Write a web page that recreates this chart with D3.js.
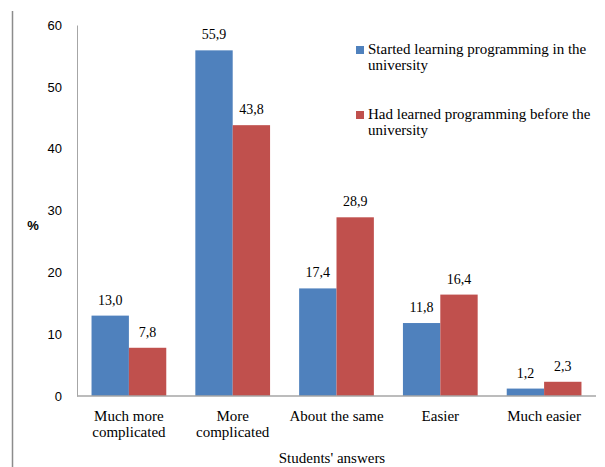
<!DOCTYPE html>
<html>
<head>
<meta charset="utf-8">
<script src="https://cdn.jsdelivr.net/npm/d3@7"></script>
<style>
  body { margin: 0; background: #fff; }
  svg text { fill: #000; }
</style>
</head>
<body>
<div id="chart"></div>
<script>
// data
var categories = [["Much more", "complicated"], ["More", "complicated"], ["About the same"], ["Easier"], ["Much easier"]]
var startedUni = [13.0, 55.9, 17.4, 11.8, 1.2]
var learnedBefore = [7.8, 43.8, 28.9, 16.4, 2.3]
var seriesNames = [["Started learning programming in the", "university"], ["Had learned programming before the", "university"]]
var yTicks = [0, 10, 20, 30, 40, 50, 60]

var width = 605, height = 467
var margin = {top: 25, right: 9, bottom: 71, left: 77}
var colors = ['#4f81bd', '#c0504d']
var serif = "Liberation Serif"
var sans = "Liberation Sans"

var svg = d3.select("#chart")
  .append("svg")
  .attr("width", width)
  .attr("height", height)

// outer left frame line
svg.append("line")
  .attr("x1", 12.5).attr("x2", 12.5)
  .attr("y1", 11).attr("y2", height)
  .style("stroke", "#8c8c8c")
  .style("stroke-width", 1.5)

var xScale = d3.scaleBand()
  .domain(d3.range(categories.length))
  .range([margin.left, width - margin.right])
  .paddingInner(0.28)
  .paddingOuter(0.14)

var xInner = d3.scaleBand()
  .domain([0, 1])
  .range([0, xScale.bandwidth()])

var yScale = d3.scaleLinear()
  .domain([0, 60])
  .range([height - margin.bottom, margin.top])

// Y axis
var yAxis = d3.axisLeft(yScale)
  .tickValues(yTicks)
  .tickSize(0)
  .tickPadding(15)

var yG = svg.append("g")
  .attr("transform", `translate(${margin.left},0)`)
  .call(yAxis)
  .attr("font-family", sans)
  .attr("font-size", 13)
yG.select(".domain").style("stroke", "#a6a6a6")

svg.append("text")
  .attr("x", 33)
  .attr("y", 230)
  .attr("text-anchor", "middle")
  .attr("font-family", sans)
  .attr("font-size", 13)
  .attr("font-weight", "bold")
  .text("%")

// bars
var groups = svg.append("g").selectAll("g")
  .data(categories)
  .enter()
  .append("g")
  .attr("transform", (d, i) => `translate(${xScale(i)},0)`)

var series = [startedUni, learnedBefore]
series.forEach(function(vals, s) {
  groups.append("rect")
    .attr("x", xInner(s))
    .attr("width", xInner.bandwidth())
    .attr("y", (d, i) => yScale(vals[i]))
    .attr("height", (d, i) => yScale(0) - yScale(vals[i]))
    .style("fill", colors[s])

  groups.append("text")
    .attr("font-family", serif)
    .attr("font-size", 14)
    .attr("x", xInner(s) + xInner.bandwidth() / 2)
    .attr("y", (d, i) => yScale(vals[i]) - 11)
    .attr("text-anchor", "middle")
    .text((d, i) => vals[i].toFixed(1).replace('.', ','))
})

// X axis
svg.append("line")
  .attr("x1", margin.left)
  .attr("x2", width - margin.right)
  .attr("y1", yScale(0))
  .attr("y2", yScale(0))
  .style("stroke", "#a6a6a6")
  .style("stroke-width", 1.5)

groups.append("text")
  .attr("font-family", serif)
  .attr("font-size", 15)
  .attr("x", xScale.bandwidth() / 2)
  .attr("y", yScale(0) + 25)
  .attr("text-anchor", "middle")
  .selectAll("tspan")
  .data(d => d)
  .enter()
  .append("tspan")
  .attr("x", xScale.bandwidth() / 2)
  .attr("dy", (d, i) => i === 0 ? 0 : 16)
  .text(d => d)

svg.append("text")
  .attr("font-family", serif)
  .attr("font-size", 15)
  .attr("x", 332)
  .attr("y", 463)
  .attr("text-anchor", "middle")
  .text("Students' answers")

// legend
var legend = svg.append("g")
  .selectAll("g")
  .data(seriesNames)
  .enter()
  .append("g")
  .attr("transform", (d, i) => `translate(356,${46 + i * 65})`)

legend.append("rect")
  .attr("width", 8)
  .attr("height", 8)
  .style("fill", (d, i) => colors[i])

legend.append("text")
  .attr("font-family", serif)
  .attr("font-size", 15)
  .selectAll("tspan")
  .data(d => d)
  .enter()
  .append("tspan")
  .attr("x", 12)
  .attr("y", (d, i) => 8 + i * 16)
  .text(d => d)
</script>
</body>
</html>
